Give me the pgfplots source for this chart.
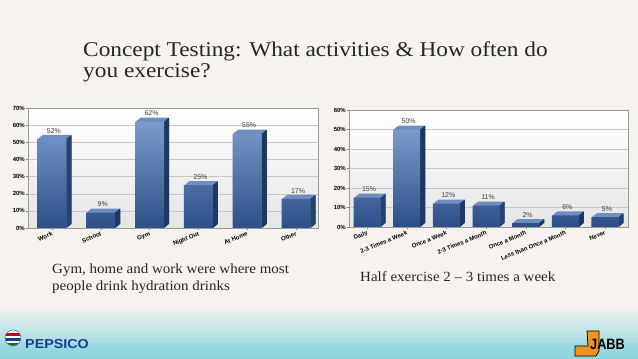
\documentclass[border=0pt]{standalone}
\usepackage{pgfplots}
\pgfplotsset{compat=1.18}
\usepackage{pgfplotstable}
\usepackage{fontspec}
\setmainfont{Liberation Serif}
\newfontfamily\sansf{Liberation Sans}
\definecolor{bg}{HTML}{F6F3EE}
\definecolor{brush}{HTML}{8AD4DD}
\definecolor{frontT}{HTML}{7B9BCB}
\definecolor{frontB}{HTML}{2C4F88}
\definecolor{topc}{HTML}{6D8EC0}
\definecolor{sidec}{HTML}{1E3864}
\definecolor{pepblue}{HTML}{1B3D8F}
\definecolor{jabbor}{HTML}{F0931E}

\pgfplotstableread{
x y
0 52
1 9
2 62
3 25
4 55
5 17
}\leftdata
\pgfplotstableread{
x y
0 15
1 50
2 12
3 11
4 2
5 6
6 5
}\rightdata

\pgfplotsset{
  slidechart/.style={
    scale only axis, anchor=south west, ymin=0,
    axis background/.style={top color=white, bottom color=black!10},
    axis line style={black!40}, ymajorgrids, grid style={black!22},
    tick align=outside, major tick length=2pt, tick style={black!50},
    xtick pos=lower, ytick pos=left,
    /pgf/number format/assume math mode=true,
    yticklabel={\pgfmathprintnumber{\tick}\%},
    yticklabel style={font=\sansf\bfseries\fontsize{6}{7}\selectfont, inner sep=1pt},
    xticklabel style={font=\sansf\bfseries\fontsize{6}{7}\selectfont, rotate=22, anchor=north east, inner sep=1pt},
    xtick=data,
    clip=false,
  },
}

\newcommand{\threedbars}[3]{% table, front width, half width
  \pgfplotsinvokeforeach{1,2,3,4,5}{%
    \addplot[ybar, bar width=#2, bar shift=##1*1pt, yshift=##1*0.8pt, fill=topc, draw=none] table[x=x,y=y] {#1};
  }
  \pgfplotsinvokeforeach{0.5,1.5,2.5,3.5,4.5}{%
    \addplot[ybar, bar width=1.2pt, bar shift=#3+##1*1pt, yshift=##1*0.8pt, fill=sidec, draw=none] table[x=x,y=y] {#1};
  }
  \addplot[ybar, bar width=#2, bar shift=0pt, top color=frontT, bottom color=frontB, draw=none] table[x=x,y=y] {#1};
  \addplot[draw=none, mark=none, nodes near coords={\pgfmathprintnumber{\pgfplotspointmeta}\%},
    every node near coord/.style={anchor=south, font=\sansf\fontsize{7}{8}\selectfont, text=black!75, yshift=4.5pt, xshift=2pt, inner sep=1pt},
    point meta=explicit] table[x=x,y=y,meta=y] {#1};
}

\begin{document}
\begin{tikzpicture}[x=1pt,y=1pt]
\useasboundingbox (0pt,0pt) rectangle (638pt,359pt);
% background
\fill[bg] (0pt,0pt) rectangle (638pt,359pt);
\shade[top color=bg, bottom color=brush] (0pt,0pt) rectangle (638pt,54pt);
\fill[brush, opacity=0.4] (0pt,0pt) rectangle (638pt,16pt);

% title
\node[anchor=base west, inner sep=0pt, font=\fontsize{21}{24}\selectfont, text=black!85, xscale=1.11] at (83pt,302pt) {Concept Testing: What activities \& How often do};
\node[anchor=base west, inner sep=0pt, font=\fontsize{21}{24}\selectfont, text=black!85, xscale=1.11] at (83pt,281pt) {you exercise?};

% left chart
\begin{axis}[slidechart, at={(28pt,131pt)}, width=290pt, height=120pt,
  ymax=70, ytick={0,10,...,70}, xmin=-0.49, xmax=5.45,
  xticklabels={Work,School,Gym,Night Out,At Home,Other}]
\threedbars{\leftdata}{29pt}{14.5pt}
\end{axis}

% right chart
\begin{axis}[slidechart, at={(349pt,132pt)}, width=279pt, height=117pt,
  ymax=60, ytick={0,10,...,60}, xmin=-0.454, xmax=6.58,
  xticklabels={Daily,2-3 Times a Week,Once a Week,2-3 Times a Month,Once a Month,Less than Once a Month,Never}]
\threedbars{\rightdata}{27pt}{13.5pt}
\end{axis}

% captions
\node[anchor=base west, inner sep=0pt, font=\fontsize{14}{17}\selectfont, text=black!85, xscale=1.07] at (52pt,85pt) {Gym, home and work were where most};
\node[anchor=base west, inner sep=0pt, font=\fontsize{14}{17}\selectfont, text=black!85, xscale=1.07] at (52pt,68pt) {people drink hydration drinks};
\node[anchor=base west, inner sep=0pt, font=\fontsize{14}{17}\selectfont, text=black!85, xscale=1.07] at (360pt,77pt) {Half exercise 2 -- 3 times a week};

% PepsiCo logo
\begin{scope}
\clip (13pt,21pt) circle (8pt);
\fill[white] (13pt,21pt) circle (8pt);
\fill[red!80!black] (5pt,23pt) rectangle (21pt,26pt);
\fill[pepblue] (5pt,18pt) rectangle (21pt,21pt);
\fill[green!50!black] (5pt,13pt) rectangle (21pt,16pt);
\end{scope}
\draw[pepblue!70, line width=0.6pt] (13pt,21pt) circle (8pt);
\node[anchor=base west, inner sep=0pt, font=\sansf\bfseries\fontsize{13}{14}\selectfont, text=pepblue, xscale=1.1] at (25pt,10pt) {PEPSICO};

% JABB logo
\fill[jabbor, draw=black, line width=0.8pt] (587pt,28pt) -- (599pt,28pt) -- (599pt,8pt) -- (596pt,3pt) -- (575pt,3pt) -- (575pt,13pt) -- (588pt,13pt) -- cycle;
\node[anchor=base west, inner sep=0pt, font=\sansf\bfseries\fontsize{15}{16}\selectfont, text=black, xscale=0.85] at (590pt,9pt) {JABB};
\end{tikzpicture}
\end{document}
